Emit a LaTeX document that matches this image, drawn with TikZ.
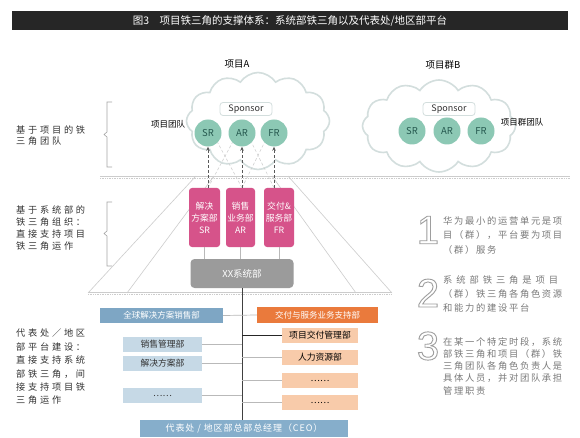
\documentclass[tikz,border=0pt]{standalone}
\usepackage{fontspec}
\setmainfont{Noto Sans CJK SC}
\newfontfamily\digitfont{Liberation Sans}
\usetikzlibrary{shapes.symbols,arrows.meta}
\definecolor{titlebg}{HTML}{262626}
\definecolor{cloudline}{HTML}{D3DEDD}
\definecolor{teal}{HTML}{8CC8B4}
\definecolor{tealtext}{HTML}{25584E}
\definecolor{pinkbox}{HTML}{D6538A}
\definecolor{grayboxc}{HTML}{9B9B9B}
\definecolor{bluebar}{HTML}{7EA6C4}
\definecolor{lightblue}{HTML}{C6D9E6}
\definecolor{orangebar}{HTML}{EA7A3C}
\definecolor{peach}{HTML}{F8CBAA}
\definecolor{ceobar}{HTML}{86AECB}
\definecolor{notegray}{HTML}{7A7A7A}
\definecolor{faint}{HTML}{CCCCCC}
\definecolor{labeltext}{HTML}{333333}
\newcommand{\outlined}[1]{\special{pdf:literal direct 1 Tr 0.9 w 0.62 G}#1\special{pdf:literal direct 0 Tr}}
\begin{document}
\begin{tikzpicture}[x=1pt,y=-1pt,
  title/.style={fill=titlebg,text=white,minimum width=556pt,minimum height=19pt,inner sep=0pt,font=\fontsize{10.5}{12}\selectfont},
  cloudshape/.style={cloud,cloud puffs=12,cloud puff arc=115,cloud ignores aspect,draw=cloudline,line width=1.6pt,fill=white,inner sep=0pt},
  sponsor/.style={draw=cloudline,line width=0.8pt,rounded corners=3pt,fill=white,minimum width=52pt,minimum height=13pt,inner sep=0pt,font=\fontsize{9}{10}\selectfont,text=labeltext},
  role/.style={circle,fill=teal,minimum size=27pt,inner sep=0pt,font=\fontsize{9.5}{10}\selectfont,text=tealtext},
  head/.style={font=\fontsize{9.5}{11}\selectfont,text=black,inner sep=0pt},
  lab/.style={font=\fontsize{8.5}{10}\selectfont,text=black,inner sep=0pt},
  sidelab/.style={font=\fontsize{9.2}{#1}\selectfont\addfontfeature{LetterSpace=30},text=labeltext,align=left,anchor=north west,inner sep=0pt},
  pinkb/.style={fill=pinkbox,rounded corners=3pt,minimum height=59pt,inner sep=0pt,text=white,align=center,font=\fontsize{8.8}{12}\selectfont},
  xxbox/.style={fill=grayboxc,rounded corners=4pt,minimum width=103pt,minimum height=29pt,inner sep=0pt,text=white,font=\fontsize{9.5}{11}\selectfont},
  barb/.style={fill=bluebar,minimum width=123pt,minimum height=15pt,inner sep=0pt,text=white,font=\fontsize{8.5}{10}\selectfont},
  baro/.style={fill=orangebar,minimum width=121pt,minimum height=16pt,inner sep=0pt,text=white,font=\fontsize{8.5}{10}\selectfont},
  lbox/.style={fill=lightblue,minimum width=79pt,minimum height=15pt,inner sep=0pt,text=labeltext,font=\fontsize{8.8}{10}\selectfont},
  pbox/.style={fill=peach,minimum width=76pt,minimum height=15pt,inner sep=0pt,text=black,font=\fontsize{8.8}{10}\selectfont},
  ceo/.style={fill=ceobar,minimum width=208pt,minimum height=17pt,inner sep=0pt,text=white,font=\fontsize{9}{10}\selectfont\addfontfeature{LetterSpace=10}},
  digit/.style={font=\digitfont\fontsize{40}{40}\selectfont,inner sep=0pt},
  note/.style={font=\fontsize{9.3}{#1}\selectfont\addfontfeature{LetterSpace=18},text=notegray,align=left,anchor=north west,inner sep=0pt},
  arr/.style={densely dashed,draw=gray!70!black,line width=0.6pt,-{Stealth[length=4pt,width=3.5pt]}},
  crossd/.style={densely dashed,draw=faint,line width=0.5pt},
  funnel/.style={draw=faint,line width=0.6pt},
  sepl/.style={draw=faint,line width=0.7pt},
  sepd/.style={draw=faint,line width=0.7pt,densely dotted},
  bracket/.style={draw=gray!70,line width=0.6pt},
  trunk/.style={draw=black!75,line width=0.7pt},
  conn/.style={draw=gray!55,line width=0.7pt},
  connd/.style={draw=black!85,line width=0.7pt}
]
\useasboundingbox (0,0) rectangle (580,438);
\fill[white] (0,0) rectangle (580,438);

% title
\node[title] (title) at (290,21) {图3\quad 项目铁三角的支撑体系：系统部铁三角以及代表处/地区部平台};

% funnel lines (background)
\coordinate (fa1) at (88,293);  \coordinate (fa2) at (196,176);
\coordinate (fb1) at (127,293); \coordinate (fb2) at (214,176);
\coordinate (fc1) at (392,293); \coordinate (fc2) at (288,176);
\coordinate (fd1) at (356,293); \coordinate (fd2) at (272,176);
\draw[funnel] (fa1) -- (fa2);
\draw[funnel] (fb1) -- (fb2);
\draw[funnel] (fc1) -- (fc2);
\draw[funnel] (fd1) -- (fd2);

% headings
\node[head] (hA) at (237,64) {项目A};
\node[head] (hB) at (443,65) {项目群B};

% clouds
\node[cloudshape,minimum width=143pt,minimum height=97pt] (cloudA) at (258,121) {};
\node[cloudshape,minimum width=153pt,minimum height=92pt] (cloudB) at (439,126) {};

% sponsors
\node[sponsor] (spA) at (246,109) {Sponsor};
\node[sponsor] (spB) at (449,109) {Sponsor};

% roles A
\node[role] (srA) at (208,133) {SR};
\node[role] (arA) at (242,133) {AR};
\node[role] (frA) at (274,133) {FR};
% roles B
\node[role] (srB) at (412,131) {SR};
\node[role] (arB) at (447,131) {AR};
\node[role] (frB) at (481,131) {FR};

\node[lab] (teamA) at (168,124) {项目团队};
\node[lab] (teamB) at (522,122) {项目群团队};

% separators
\coordinate (s1a) at (100,176); \coordinate (s1b) at (570,176);
\coordinate (s1c) at (100,178.5); \coordinate (s1d) at (570,178.5);
\draw[sepl] (s1a) -- (s1b);
\draw[sepd] (s1c) -- (s1d);
\coordinate (s2a) at (88,292); \coordinate (s2b) at (392,292);
\coordinate (s2c) at (88,294.5); \coordinate (s2d) at (392,294.5);
\draw[sepl] (s2a) -- (s2b);
\draw[sepd] (s2c) -- (s2d);

% left labels and brackets
\node[sidelab=11] (l1) at (16,126) {基于项目的铁\\三角团队};
\node[sidelab=12] (l2) at (16,206) {基于系统部的\\铁三角组织：\\直接支持项目\\铁三角运作};
\node[sidelab=13.4] (l3) at (16,329) {代表处／地区\\部平台建设：\\直接支持系统\\部铁三角，间\\接支持项目铁\\三角运作};
\draw[bracket] (112,102) -- (107,102) -- (107,132) -- (104,134.5) -- (107,137) -- (107,167) -- (112,167);
\draw[bracket] (112,202) -- (107,202) -- (107,231) -- (104,233.5) -- (107,236) -- (107,266) -- (112,266);

% pink boxes
\node[pinkb,minimum width=31pt] (srbox) at (204.5,217.5) {解决\\方案部\\SR};
\node[pinkb,minimum width=29pt] (arbox) at (240.5,217.5) {销售\\业务部\\AR};
\node[pinkb,minimum width=30pt] (frbox) at (279,217.5) {交付\&\\服务部\\FR};

% cross dashed lines
\draw[crossd] (srbox.north -| srA.south) -- (arA.south west);
\draw[crossd] (arbox.north -| arA.south) -- (srA.south east);
\draw[crossd] (arbox.north -| arA.south) -- (frA.south west);
\draw[crossd] (frbox.north -| frA.south) -- (arA.south east);

% arrows
\draw[arr] (srbox.north -| srA.south) -- (srA.south);
\draw[arr] (arbox.north -| arA.south) -- (arA.south);
\draw[arr] (frbox.north -| frA.south) -- (frA.south);

% XX box
\node[xxbox] (xx) at (242,273.5) {XX系统部};
\draw[conn] (srbox.south) -- (srbox.south |- xx.north);
\draw[conn] (arbox.south) -- (arbox.south |- xx.north);
\draw[conn] (frbox.south) -- (frbox.south |- xx.north);

% platform
\node[ceo] (ceo) at (244,428.5) {代表处 / 地区部总部总经理（CEO）};
\draw[trunk] (xx.south) -- (xx.south |- ceo.north);

\node[barb] (gsol) at (161.5,315.5) {全球解决方案销售部};
\node[baro] (dsup) at (317.5,315) {交付与服务业务支持部};
\draw[conn] (gsol.east) -- (dsup.west);

\node[lbox] (sm) at (162.5,344.5) {销售管理部};
\node[lbox] (sol) at (162.5,363) {解决方案部};
\node[lbox] (ldots) at (162.5,395.5) {……};
\draw[conn] (sm.east) -- (sm.east -| xx.south);
\draw[conn] (sol.east) -- (sol.east -| xx.south);
\draw[conn] (ldots.east) -- (ldots.east -| xx.south);

\node[pbox] (pdm) at (320,335) {项目交付管理部};
\node[pbox] (hr) at (320,357.5) {人力资源部};
\node[pbox] (pd1) at (320,380.5) {……};
\node[pbox] (pd2) at (320,402.5) {……};
\draw[connd] (pdm.west -| xx.south) -- (pdm.west);
\draw[conn] (hr.west -| xx.south) -- (hr.west);
\draw[conn] (pd1.west -| xx.south) -- (pd1.west);
\draw[conn] (pd2.west -| xx.south) -- (pd2.west);

% right notes
\node[digit] (d1) at (428,230) {\outlined{1}};
\node[digit] (d2) at (428,293) {\outlined{2}};
\node[digit] (d3) at (428,346) {\outlined{3}};
\node[note=14.5] (n1) at (443,216) {华为最小的运营单元是项\\目（群），平台要为项目\\（群）服务};
\node[note=14] (n2) at (443,275) {{\addfontfeature{LetterSpace=42}系统部铁三角是项目}\\（群）铁三角各角色资源\\和能力的建设平台};
\node[note=12.3] (n3) at (443,337) {在某一个特定时段，系统\\部铁三角和项目（群）铁\\三角团队各角色负责人是\\具体人员，并对团队承担\\管理职责};
\end{tikzpicture}
\end{document}
